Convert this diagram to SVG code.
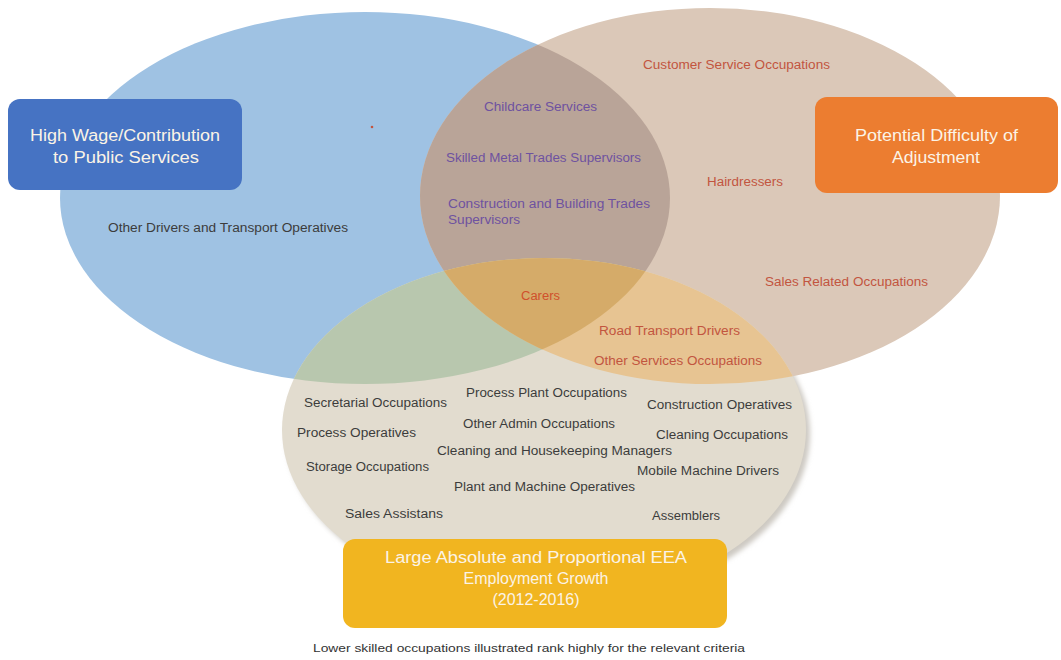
<svg xmlns="http://www.w3.org/2000/svg" width="1061" height="660" viewBox="0 0 1061 660">
<style>
.lbl{font-family:"Liberation Sans",Arial,sans-serif;font-size:12px}
.dk{fill:#3c3c3c}
.rd{fill:#c2553f}
.pu{fill:#6e52a0}
.bx{font-family:"Liberation Sans",Arial,sans-serif;font-size:16px;fill:#fbf3e6}
.mid{text-anchor:middle}
.cap{font-family:"Liberation Sans",Arial,sans-serif;font-size:11px;fill:#333}
</style>
<defs>
<clipPath id="cA"><ellipse cx="365" cy="198" rx="305" ry="186"/></clipPath>
<clipPath id="cB"><ellipse cx="710" cy="196" rx="290" ry="188"/></clipPath>
<filter id="sh" x="-10%" y="-10%" width="120%" height="120%"><feGaussianBlur stdDeviation="2.5"/></filter>
</defs>
<rect width="1061" height="660" fill="#ffffff"/>
<g id="sets">
<ellipse cx="548" cy="434" rx="262" ry="172" fill="#cdc9c2" filter="url(#sh)"/>
<ellipse id="setA" cx="365" cy="198" rx="305" ry="186" fill="#9fc2e3"/>
<ellipse id="setB" cx="710" cy="196" rx="290" ry="188" fill="#dbc8b8"/>
<ellipse id="setC" cx="544" cy="430" rx="262" ry="172" fill="#e2dccf"/>
<ellipse cx="710" cy="196" rx="290" ry="188" fill="#b9a498" clip-path="url(#cA)"/>
<ellipse cx="544" cy="430" rx="262" ry="172" fill="#b8c7ae" clip-path="url(#cA)"/>
<ellipse cx="544" cy="430" rx="262" ry="172" fill="#e7c492" clip-path="url(#cB)"/>
<g clip-path="url(#cA)"><ellipse cx="544" cy="430" rx="262" ry="172" fill="#d5ab69" clip-path="url(#cB)"/></g>
</g>
<g id="connectors"></g>
<g id="node-high-wage">
<rect x="8" y="99" width="234" height="91" rx="12" fill="#4673c3"/>
<text class="bx" x="30" y="141" textLength="190" lengthAdjust="spacingAndGlyphs">High Wage/Contribution</text>
<text class="bx" x="53" y="163" textLength="146" lengthAdjust="spacingAndGlyphs">to Public Services</text>
</g>
<g id="node-difficulty">
<rect x="815" y="97" width="243" height="96" rx="12" fill="#ec7d30"/>
<text class="bx" x="855" y="141" textLength="163" lengthAdjust="spacingAndGlyphs">Potential Difficulty of</text>
<text class="bx" x="892" y="163" textLength="88" lengthAdjust="spacingAndGlyphs">Adjustment</text>
</g>
<g id="node-growth">
<rect x="343" y="539" width="384" height="89" rx="12" fill="#f1b520"/>
<text class="bx" x="385" y="563" textLength="302" lengthAdjust="spacingAndGlyphs">Large Absolute and Proportional EEA</text>
<text class="bx mid" x="536" y="584">Employment Growth</text>
<text class="bx mid" x="536" y="605">(2012-2016)</text>
</g>
<g id="labels" class="lbl">
<circle cx="372" cy="127" r="1.3" fill="#c2553f"/>
<text class="dk" x="108" y="232" textLength="240" lengthAdjust="spacingAndGlyphs">Other Drivers and Transport Operatives</text>
<text class="rd" x="643" y="69" textLength="187" lengthAdjust="spacingAndGlyphs">Customer Service Occupations</text>
<text class="pu" x="484" y="111" textLength="113" lengthAdjust="spacingAndGlyphs">Childcare Services</text>
<text class="pu" x="446" y="162" textLength="195" lengthAdjust="spacingAndGlyphs">Skilled Metal Trades Supervisors</text>
<text class="rd" x="707" y="186" textLength="76" lengthAdjust="spacingAndGlyphs">Hairdressers</text>
<text class="pu" x="448" y="208" textLength="202" lengthAdjust="spacingAndGlyphs">Construction and Building Trades</text>
<text class="pu" x="448" y="224" textLength="72" lengthAdjust="spacingAndGlyphs">Supervisors</text>
<text class="rd" x="765" y="286" textLength="163" lengthAdjust="spacingAndGlyphs">Sales Related Occupations</text>
<text x="521" y="300" fill="#d0502c" textLength="39" lengthAdjust="spacingAndGlyphs">Carers</text>
<text class="rd" x="599" y="335" textLength="141" lengthAdjust="spacingAndGlyphs">Road Transport Drivers</text>
<text class="rd" x="594" y="365" textLength="168" lengthAdjust="spacingAndGlyphs">Other Services Occupations</text>
<text class="dk" x="304" y="407" textLength="143" lengthAdjust="spacingAndGlyphs">Secretarial Occupations</text>
<text class="dk" x="466" y="397" textLength="161" lengthAdjust="spacingAndGlyphs">Process Plant Occupations</text>
<text class="dk" x="647" y="409" textLength="145" lengthAdjust="spacingAndGlyphs">Construction Operatives</text>
<text class="dk" x="463" y="428" textLength="152" lengthAdjust="spacingAndGlyphs">Other Admin Occupations</text>
<text class="dk" x="297" y="437" textLength="119" lengthAdjust="spacingAndGlyphs">Process Operatives</text>
<text class="dk" x="656" y="439" textLength="132" lengthAdjust="spacingAndGlyphs">Cleaning Occupations</text>
<text class="dk" x="437" y="455" textLength="235" lengthAdjust="spacingAndGlyphs">Cleaning and Housekeeping Managers</text>
<text class="dk" x="306" y="471" textLength="123" lengthAdjust="spacingAndGlyphs">Storage Occupations</text>
<text class="dk" x="637" y="475" textLength="142" lengthAdjust="spacingAndGlyphs">Mobile Machine Drivers</text>
<text class="dk" x="454" y="491" textLength="181" lengthAdjust="spacingAndGlyphs">Plant and Machine Operatives</text>
<text class="dk" x="345" y="518" textLength="98" lengthAdjust="spacingAndGlyphs">Sales Assistans</text>
<text class="dk" x="652" y="520" textLength="68" lengthAdjust="spacingAndGlyphs">Assemblers</text>
</g>
<text class="cap" x="313" y="652" textLength="432" lengthAdjust="spacingAndGlyphs">Lower skilled occupations illustrated rank highly for the relevant criteria</text>
</svg>
